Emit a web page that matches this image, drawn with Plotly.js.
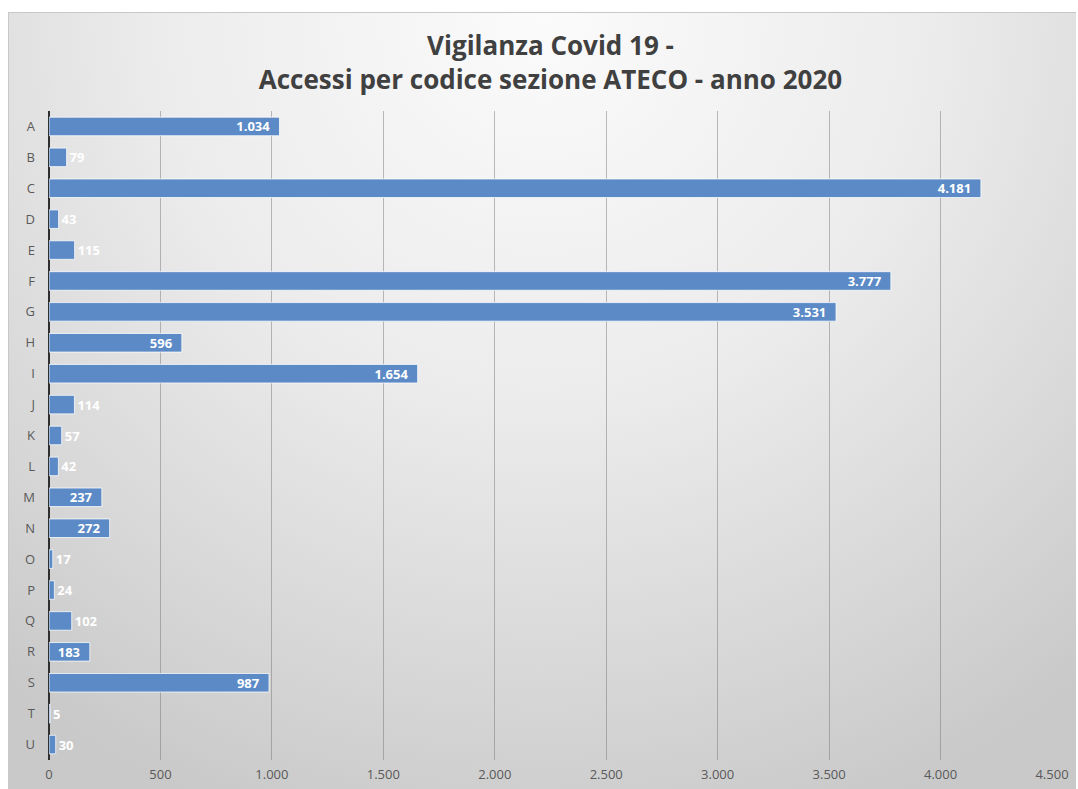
<!DOCTYPE html>
<html>
<head>
<meta charset="utf-8">
<script src="https://cdn.plot.ly/plotly-3.0.1.min.js"></script>
<style>
  html, body { margin: 0; padding: 0; background: #ffffff; width: 1078px; height: 789px; overflow: hidden; }
  #bg { position: absolute; left: 8px; top: 12px; width: 1068px; height: 777px;
        border-top: 1px solid #c8c8c8; border-left: 1px solid #c8c8c8; box-sizing: border-box;
        background: radial-gradient(ellipse 80% 110% at 50% 0%, #fbfbfb 0%, #ececec 45%, #d6d6d6 80%, #c9c9c9 100%); }
  #chart { position: absolute; left: 0; top: 0; width: 1078px; height: 789px; }
</style>
</head>
<body>
<div id="bg"></div>
<div id="chart"></div>
<script>
const categories = ["A","B","C","D","E","F","G","H","I","J","K","L","M","N","O","P","Q","R","S","T","U"];
const values = [1034, 79, 4181, 43, 115, 3777, 3531, 596, 1654, 114, 57, 42, 237, 272, 17, 24, 102, 183, 987, 5, 30];
const xTicks = [0, 500, 1000, 1500, 2000, 2500, 3000, 3500, 4000, 4500];
const titleText = "<b>Vigilanza Covid 19 -</b><br><b>Accessi per codice sezione ATECO - anno 2020</b>";

const labelFont = { family: "Open Sans, sans-serif", size: 13, color: "#ffffff", weight: 700 };

const trace = {
  type: "bar",
  orientation: "h",
  y: categories,
  x: values,
  width: 0.6,
  marker: { color: "#5b8ac6", line: { color: "rgba(255,255,255,0.75)", width: 1 } },
  texttemplate: "%{x:,}\u00a0\u00a0",
  textposition: "auto",
  insidetextanchor: "end",
  constraintext: "none",
  cliponaxis: false,
  textfont: labelFont,
  insidetextfont: labelFont,
  outsidetextfont: labelFont,
  hoverinfo: "skip"
};

const layout = {
  width: 1078,
  height: 789,
  separators: ",.",
  paper_bgcolor: "rgba(0,0,0,0)",
  plot_bgcolor: "rgba(0,0,0,0)",
  margin: { l: 48.5, r: 25.5, t: 110.5, b: 28.5 },
  showlegend: false,
  title: {
    text: titleText,
    xref: "paper",
    x: 0.5,
    xanchor: "center",
    y: 1 - 55 / 789,
    yanchor: "middle",
    yref: "container",
    font: { family: "Open Sans, sans-serif", size: 26, color: "#404040", lineposition: "none" }
  },
  xaxis: {
    range: [0, 4500],
    tickvals: xTicks,
    tickformat: ",",
    showgrid: true,
    gridcolor: "rgba(110,110,110,0.45)",
    gridwidth: 1,
    zeroline: true,
    zerolinecolor: "#2f2f2f",
    zerolinewidth: 2,
    showline: false,
    ticks: "",
    ticklabelstandoff: 5,
    tickfont: { family: "Open Sans, sans-serif", size: 13, color: "#595959" },
    fixedrange: true
  },
  yaxis: {
    type: "category",
    autorange: "reversed",
    showgrid: false,
    zeroline: false,
    showline: false,
    ticks: "",
    ticklabelstandoff: 13,
    tickfont: { family: "Open Sans, sans-serif", size: 13, color: "#595959" },
    fixedrange: true
  },
  bargap: 0.4
};

Plotly.newPlot("chart", [trace], layout, { displayModeBar: false, staticPlot: true });
</script>
</body>
</html>
